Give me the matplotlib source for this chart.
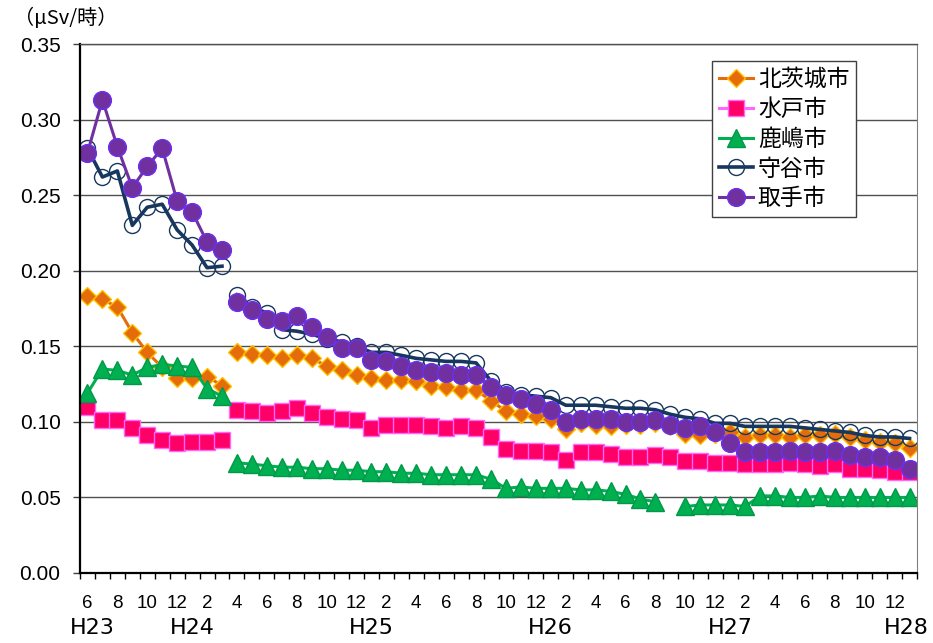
import numpy as np
import matplotlib
matplotlib.use("Agg")
import matplotlib.pyplot as plt
import matplotlib.transforms as mtransforms

plt.rcParams['font.family'] = ['Liberation Sans', 'Noto Sans CJK JP', 'DejaVu Sans']

# 月 (H23年6月 ～ H28年1月, 56か月)
meses = [(6 + k - 1) % 12 + 1 for k in range(56)]
nendo_labels = ['H23', 'H24', 'H25', 'H26', 'H27', 'H28']
nendo_pos = [0.3, 7, 19, 31, 43, 54.8]

nan = np.nan
kitaibaraki = [0.183, 0.181, 0.176, 0.159, 0.146, 0.136, 0.129, 0.129, 0.130, 0.124,
               0.146, 0.145, 0.144, 0.142, 0.144, 0.142, 0.137, 0.134, 0.131, 0.129,
               0.128, 0.128, 0.127, 0.124, 0.123, 0.121, 0.121, 0.114, 0.107, 0.105,
               0.104, 0.102, 0.095, 0.099, 0.098, 0.097, 0.098, 0.098, 0.099, 0.097,
               0.092, 0.091, 0.092, 0.093, 0.090, 0.091, 0.091, 0.090, 0.091, 0.091,
               0.092, 0.090, 0.088, 0.087, 0.086, 0.083]
mito = [0.110, 0.101, 0.101, 0.096, 0.091, 0.088, 0.086, 0.087, 0.087, 0.088,
        0.108, 0.107, 0.106, 0.107, 0.109, 0.106, 0.103, 0.102, 0.101, 0.096,
        0.098, 0.098, 0.098, 0.097, 0.096, 0.097, 0.096, 0.090, 0.082, 0.081,
        0.081, 0.080, 0.075, 0.080, 0.080, 0.079, 0.077, 0.077, 0.078, 0.077,
        0.074, 0.074, 0.073, 0.073, 0.072, 0.072, 0.072, 0.073, 0.072, 0.071,
        0.072, 0.069, 0.069, 0.068, 0.067, 0.067]
kashima = [0.119, 0.135, 0.134, 0.131, 0.136, 0.138, 0.137, 0.136, 0.122, 0.117,
           0.073, 0.072, 0.071, 0.070, 0.070, 0.069, 0.069, 0.068, 0.068, 0.067,
           0.067, 0.066, 0.066, 0.065, 0.065, 0.065, 0.065, 0.062, 0.056, 0.057,
           0.056, 0.056, 0.056, 0.055, 0.055, 0.054, 0.052, 0.049, 0.047, nan,
           0.044, 0.045, 0.045, 0.045, 0.044, 0.051, 0.051, 0.050, 0.050, 0.051,
           0.050, 0.050, 0.050, 0.050, 0.050, 0.050]
moriya = [0.281, 0.262, 0.266, 0.230, 0.242, 0.244, 0.227, 0.217, 0.202, 0.203,
          0.184, 0.176, 0.172, 0.161, 0.160, 0.158, 0.155, 0.153, 0.150, 0.146,
          0.146, 0.144, 0.142, 0.141, 0.140, 0.140, 0.139, 0.127, 0.120, 0.118,
          0.117, 0.116, 0.111, 0.111, 0.111, 0.110, 0.109, 0.109, 0.108, 0.105,
          0.103, 0.102, 0.099, 0.099, 0.097, 0.097, 0.097, 0.097, 0.096, 0.095,
          0.094, 0.093, 0.091, 0.090, 0.090, 0.089]
toride = [0.278, 0.313, 0.282, 0.255, 0.269, 0.281, 0.246, 0.239, 0.219, 0.214,
          0.179, 0.174, 0.168, 0.167, 0.170, 0.163, 0.156, 0.149, 0.149, 0.141,
          0.140, 0.137, 0.134, 0.133, 0.132, 0.131, 0.131, 0.123, 0.118, 0.115,
          0.112, 0.108, 0.100, 0.102, 0.102, 0.102, 0.100, 0.100, 0.101, 0.098,
          0.096, 0.097, 0.093, 0.086, 0.080, 0.080, 0.080, 0.081, 0.080, 0.080,
          0.081, 0.078, 0.077, 0.077, 0.075, 0.069]

# 系列ごとのスタイル
series = [
    ('北茨城市', kitaibaraki, dict(color='#E46C0A', marker='D', ms=9.5, mfc='#E46C0A', mec='#FFC000', mew=1, lw=2.2)),
    ('水戸市', mito, dict(color='#FF66FF', marker='s', ms=11, mfc='#FF0066', mec='#FF66FF', mew=1, lw=2.2)),
    ('鹿嶋市', kashima, dict(color='#00B050', marker='^', ms=13.5, mfc='#00B050', mec='#00984A', mew=1, lw=2.2)),
    ('守谷市', moriya, dict(color='#17375E', marker='o', ms=11.5, mfc='none', mec='#17375E', mew=1, lw=2.6)),
    ('取手市', toride, dict(color='#7030A0', marker='o', ms=12.8, mfc='#7030A0', mec='#6A30F0', mew=1, lw=2.2)),
]

corte = 10  # H23年度とH24年度以降で線を切る

fig = plt.figure(figsize=(9.33, 6.43), dpi=100)
ax = fig.add_axes([80 / 933, 1 - 573 / 643, 837 / 933, 529 / 643])

x = np.arange(56)
for nombre, vals, st in series:
    v = np.array(vals, dtype=float)
    ax.plot(x[:corte], v[:corte], label=nombre, **st)
    ax.plot(x[corte:], v[corte:], **st)

ax.set_xlim(-0.5, 55.5)
ax.set_ylim(0, 0.35)
ax.set_yticks(np.arange(0, 0.351, 0.05))
ax.set_yticklabels([f'{t:.2f}' for t in np.arange(0, 0.351, 0.05)], fontsize=15)
ax.tick_params(axis='y', direction='out', length=5, width=1, pad=9, color='#404040')
ax.yaxis.grid(True, color='#505050', lw=1)
ax.set_axisbelow(True)

ax.set_xticks(np.arange(-0.5, 56, 1))
ax.set_xticklabels([])
ax.tick_params(axis='x', direction='out', length=4, width=1)

for s in ['left', 'bottom']:
    ax.spines[s].set_color('black')
    ax.spines[s].set_linewidth(1.6)
ax.spines['right'].set_color('#808080')
ax.spines['top'].set_color('#505050')
ax.spines['top'].set_linewidth(1)

trans = mtransforms.blended_transform_factory(ax.transData, ax.transAxes)
for k in range(0, 56, 2):
    ax.text(k, -0.057, str(meses[k]), transform=trans, ha='center', va='center', fontsize=13.5)
for lab, pos in zip(nendo_labels, nendo_pos):
    ax.text(pos, -0.104, lab, transform=trans, ha='center', va='center', fontsize=16,
            family=['DejaVu Sans'])

fig.text(14 / 933, 1 - 18 / 643, '（μSv/時）', fontsize=14.5, va='center', ha='left',
         family=['Noto Sans CJK JP', 'DejaVu Sans'])

leg = ax.legend(loc='upper left', bbox_to_anchor=(712 / 933, 1 - 61 / 643),
                bbox_transform=fig.transFigure, fontsize=16.5, frameon=True, fancybox=False,
                edgecolor='#404040', framealpha=1, handlelength=1.5, handletextpad=0.2,
                labelspacing=0.3, borderpad=0.3, borderaxespad=0)
leg.get_frame().set_linewidth(1)
for t in leg.get_texts():
    t.set_family(['Noto Sans CJK JP', 'DejaVu Sans'])

fig.savefig('out.png', dpi=100)
